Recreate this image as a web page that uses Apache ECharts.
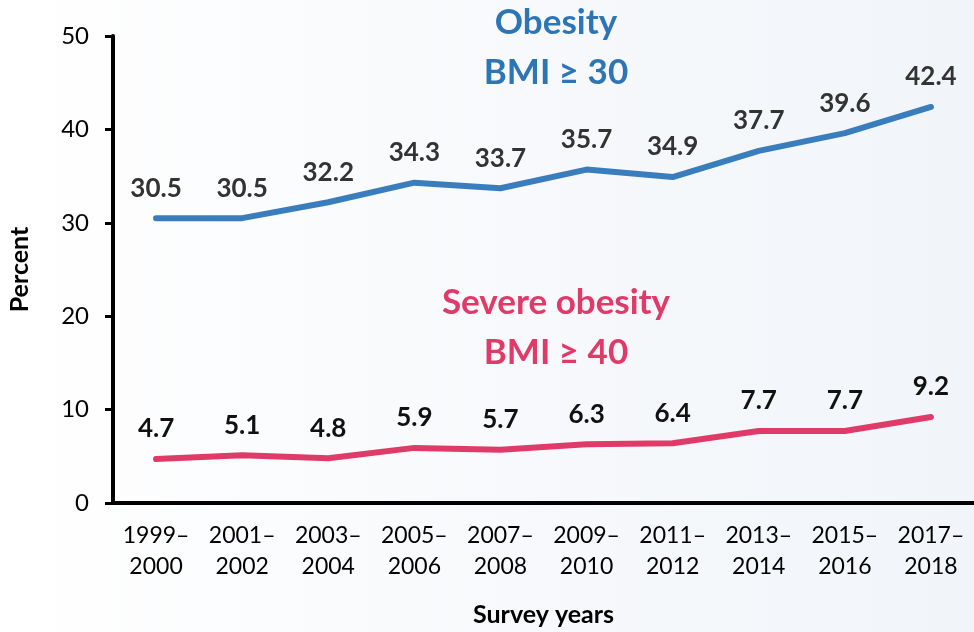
<!DOCTYPE html>
<html>
<head>
<meta charset="utf-8">
<script src="https://cdn.jsdelivr.net/npm/echarts@6/dist/echarts.min.js"></script>
<style>
  html, body { margin: 0; padding: 0; }
  #chart { width: 974px; height: 632px; }
</style>
</head>
<body>
<div id="chart"></div>
<script>
// Survey periods and prevalence values (percent)
var surveyYears = ['1999–\n2000', '2001–\n2002', '2003–\n2004', '2005–\n2006', '2007–\n2008',
                   '2009–\n2010', '2011–\n2012', '2013–\n2014', '2015–\n2016', '2017–\n2018'];
var obesity = [30.5, 30.5, 32.2, 34.3, 33.7, 35.7, 34.9, 37.7, 39.6, 42.4];
var severeObesity = [4.7, 5.1, 4.8, 5.9, 5.7, 6.3, 6.4, 7.7, 7.7, 9.2];
var yTicks = [0, 10, 20, 30, 40, 50];

var FONT = 'Lato';
var BLUE = '#3a7dbd';
var PINK = '#e03a68';

var chart = echarts.init(document.getElementById('chart'));

function lineSeries(name, data, color, labelColor) {
  return {
    name: name,
    type: 'line',
    data: data,
    symbol: 'circle',
    symbolSize: 2,
    showSymbol: true,
    itemStyle: { color: color },
    lineStyle: { color: color, width: 6, cap: 'round', join: 'round' },
    label: {
      show: true, position: 'top', distance: 16,
      fontFamily: FONT, fontWeight: 'bold', fontSize: 26, color: labelColor,
      formatter: function (p) { return p.value.toFixed(1); }
    }
  };
}

chart.setOption({
  backgroundColor: new echarts.graphic.LinearGradient(0, 0, 1, 0, [
    { offset: 0, color: '#ffffff' },
    { offset: 0.6, color: '#f6f8fb' },
    { offset: 1, color: '#f1f5f9' }
  ]),
  animation: false,
  textStyle: { fontFamily: FONT },
  grid: { left: 113, right: 0, top: 36, bottom: 129, containLabel: false, outerBoundsMode: 'none' },
  xAxis: {
    type: 'category',
    data: surveyYears,
    boundaryGap: true,
    name: 'Survey years',
    nameLocation: 'middle',
    nameGap: 99,
    nameTextStyle: { fontFamily: FONT, fontWeight: 'bold', fontSize: 25, color: '#000' },
    axisLine: { lineStyle: { color: '#000', width: 4 } },
    axisTick: { alignWithLabel: true, interval: 0, length: 8, lineStyle: { color: '#000', width: 3 } },
    axisLabel: { interval: 0, hideOverlap: false, fontFamily: FONT, fontSize: 23, color: '#000', margin: 17, lineHeight: 31 }
  },
  yAxis: {
    type: 'value',
    min: yTicks[0],
    max: yTicks[yTicks.length - 1],
    interval: 10,
    name: 'Percent',
    nameLocation: 'middle',
    nameGap: 81,
    nameRotate: 90,
    nameTextStyle: { fontFamily: FONT, fontWeight: 'bold', fontSize: 25, color: '#000' },
    axisLine: { show: true, lineStyle: { color: '#000', width: 4 } },
    axisTick: { show: true, length: 8, lineStyle: { color: '#000', width: 3 } },
    axisLabel: { fontFamily: FONT, fontSize: 24, color: '#000', margin: 24 },
    splitLine: { show: false }
  },
  series: [
    lineSeries('Obesity', obesity, BLUE, '#333'),
    lineSeries('Severe obesity', severeObesity, PINK, '#111')
  ],
  graphic: [
    {
      type: 'text',
      x: 556, y: 48,
      style: {
        text: 'Obesity\nBMI ≥ 30', align: 'center', verticalAlign: 'middle',
        fontFamily: FONT, fontWeight: 'bold', fontSize: 35, lineHeight: 50, fill: '#2e75b6'
      }
    },
    {
      type: 'text',
      x: 556, y: 328,
      style: {
        text: 'Severe obesity\nBMI ≥ 40', align: 'center', verticalAlign: 'middle',
        fontFamily: FONT, fontWeight: 'bold', fontSize: 35, lineHeight: 50, fill: '#e03a68'
      }
    }
  ]
});
</script>
</body>
</html>
